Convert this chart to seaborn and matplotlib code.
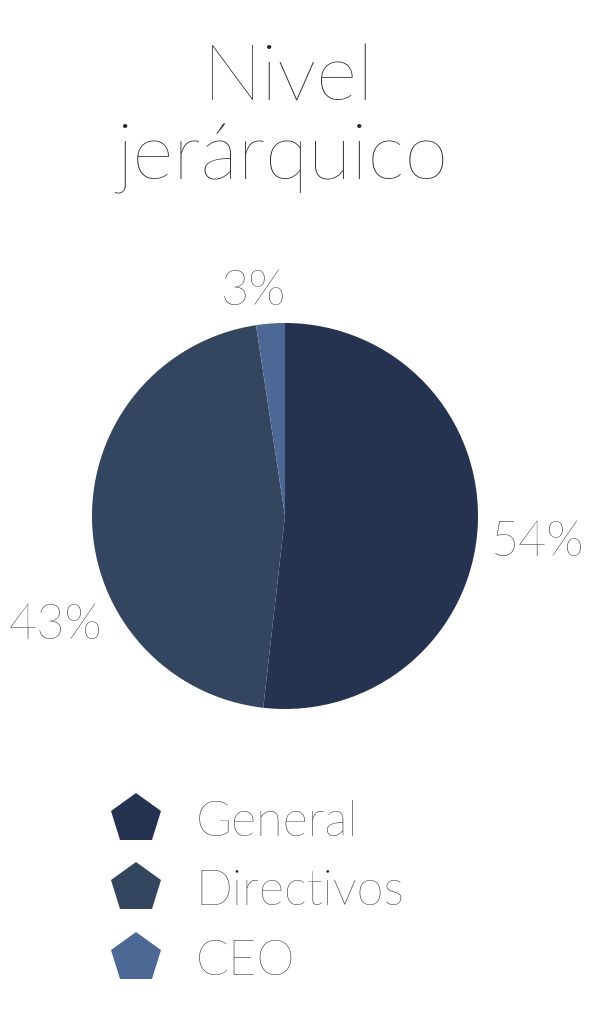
import numpy as np
import pandas as pd
import matplotlib.pyplot as plt
from matplotlib.lines import Line2D
import seaborn as sns

# data
niveles = ['General', 'Directivos', 'CEO']
etiquetas = ['54%', '43%', '3%']
# wedge shares as drawn in the picture (labels are rounded differently)
sectores = [51.8, 45.8, 2.4]
colores = ['#253350', '#34465f', '#4d6895']

sns.set_theme(style='white')
plt.rcParams['font.family'] = ['Lato', 'DejaVu Sans']
gris = '#262626'

df = pd.DataFrame({'nivel': niveles, 'pct': sectores})
pal = sns.color_palette(colores)

fig = plt.figure(figsize=(5.97, 10.24), dpi=100)

# pie axes (center ~ (285,516) px, radius ~193 px)
cx, cy, r = 285 / 597, 1 - 516 / 1024, 193
ax = fig.add_axes([cx - r / 597, cy - r / 1024, 2 * r / 597, 2 * r / 1024])
ax.pie(df['pct'], colors=pal, startangle=90, counterclock=False,
       radius=1, wedgeprops={'linewidth': 0})
ax.set_xlim(-1, 1)
ax.set_ylim(-1, 1)
ax.set_aspect('equal')
ax.axis('off')

# title
fig.text(289 / 597, 1 - 100 / 1024, 'Nivel', ha='center', va='baseline',
         fontsize=57, fontweight='light', color=gris)
fig.text(282 / 597, 1 - 180 / 1024, 'jerárquico', ha='center', va='baseline',
         fontsize=57, fontweight='light', color=gris)

# percentage labels
pos = [(538, 556), (55, 639), (253, 305)]
for (x, y), t in zip(pos, etiquetas):
    fig.text(x / 597, 1 - y / 1024, t, ha='center', va='baseline',
             fontsize=35, fontweight='light', color=gris)

# legend
handles = [Line2D([], [], marker='p', linestyle='', markersize=38,
                  markerfacecolor=c, markeredgewidth=0) for c in pal]
fig.legend(handles, niveles, loc='upper left', bbox_to_anchor=(113 / 597, 1 - 800 / 1024),
           frameon=False, labelcolor=gris, handlelength=0.95, handletextpad=0.75,
           labelspacing=0.5, borderpad=0, borderaxespad=0,
           prop={'weight': 'light', 'size': 35})

fig.savefig('out.png', dpi=100, facecolor='white')
